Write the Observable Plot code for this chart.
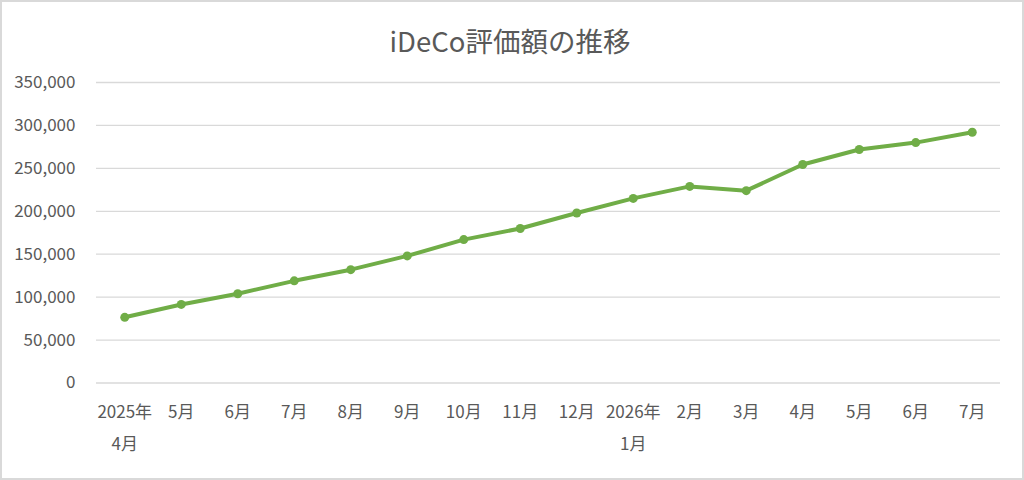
<!DOCTYPE html>
<html>
<head>
<meta charset="utf-8">
<script src="https://cdn.jsdelivr.net/npm/d3@7"></script>
<script src="https://cdn.jsdelivr.net/npm/@observablehq/plot@0.6"></script>
<style>
  html, body { margin: 0; padding: 0; background: #fff; }
  #wrap { position: relative; width: 1024px; height: 480px; }
  #title { position: absolute; left: 0; top: 20px; width: 1020px; text-align: center;
           font-family: "Noto Sans CJK JP", "Noto Sans", sans-serif; font-size: 27.5px; color: #595959; line-height: 40px; }
  #border { position: absolute; left: 0; top: 0; width: 1024px; height: 480px; box-sizing: border-box;
            border: 2px solid #d9d9d9; pointer-events: none; }
</style>
</head>
<body>
<div id="wrap"><div id="title">iDeCo評価額の推移</div><div id="border"></div></div>
<script>
const months = ["2025-04","2025-05","2025-06","2025-07","2025-08","2025-09","2025-10","2025-11","2025-12",
                "2026-01","2026-02","2026-03","2026-04","2026-05","2026-06","2026-07"];
const tickLabels = ["2025年\n4月","5月","6月","7月","8月","9月","10月","11月","12月",
                    "2026年\n1月","2月","3月","4月","5月","6月","7月"];
const values = [76500, 91500, 104000, 119000, 132000, 148000, 167000, 180000, 198000,
                215000, 229000, 224000, 254500, 272000, 280000, 292000];
const yTicks = [0, 50000, 100000, 150000, 200000, 250000, 300000, 350000];

const data = months.map((m, i) => ({month: m, value: values[i]}));
const labelOf = new Map(months.map((m, i) => [m, tickLabels[i]]));

const chart = Plot.plot({
  width: 1024,
  height: 480,
  marginLeft: 96,
  marginRight: 24,
  marginTop: 82,
  marginBottom: 97.5,
  style: {fontFamily: '"Noto Sans CJK JP", "Noto Sans", sans-serif', color: "#595959", background: "transparent"},
  x: {type: "point", domain: months, padding: 0.5, round: false},
  y: {domain: [0, 350000]},
  marks: [
    Plot.gridY(yTicks, {stroke: "#d9d9d9", strokeOpacity: 1, strokeWidth: 1.3}),
    Plot.axisY(yTicks, {tickSize: 0, tickPadding: 21, fontSize: 17, fill: "#595959",
                        tickFormat: d3.format(","), label: null}),
    Plot.axisX({tickSize: 0, tickPadding: 12, fontSize: 17, fill: "#595959", lineHeight: 1.9,
                tickFormat: d => labelOf.get(d), label: null}),
    Plot.line(data, {x: "month", y: "value", stroke: "#70ad47", strokeWidth: 4, strokeLinejoin: "round"}),
    Plot.dot(data, {x: "month", y: "value", r: 4.5, fill: "#70ad47", stroke: "none"})
  ]
});
document.getElementById("wrap").prepend(chart);
</script>
</body>
</html>
